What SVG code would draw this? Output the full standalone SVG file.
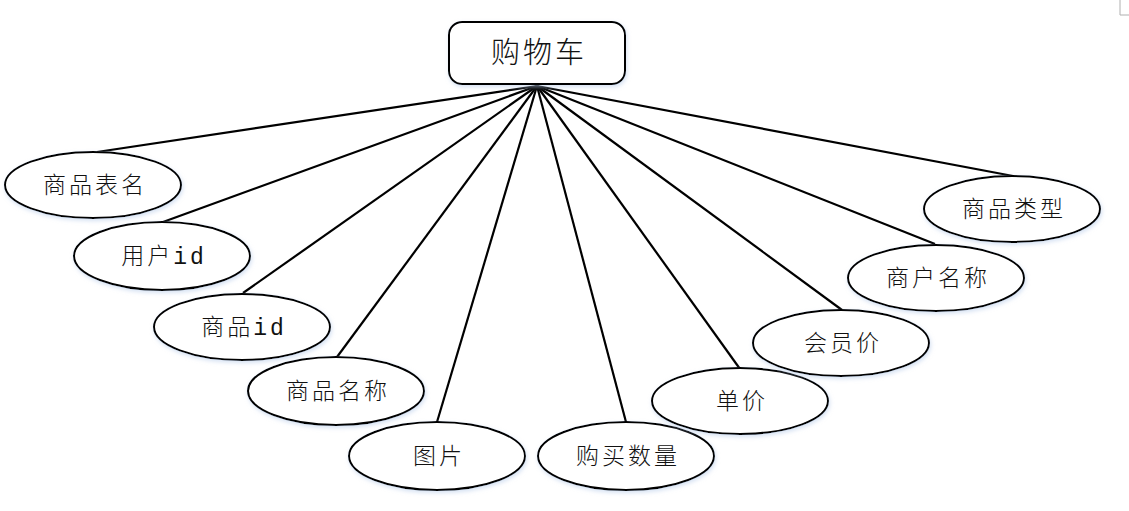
<svg xmlns="http://www.w3.org/2000/svg" width="1129" height="511" viewBox="0 0 1129 511">
<defs>
<filter id="glow" x="-10%" y="-20%" width="120%" height="140%">
<feDropShadow dx="1" dy="2" stdDeviation="2" flood-color="#b9cdea" flood-opacity="0.6"/>
</filter>
<style>
.n{fill:#fff;stroke:#000;stroke-width:2;filter:url(#glow)}
.t{font-family:"Liberation Mono","Noto Sans CJK SC",monospace;font-size:23px;font-weight:300;letter-spacing:3px;fill:#111;text-anchor:middle}
.title{font-family:"Noto Sans CJK SC",sans-serif;font-size:29px;font-weight:300;letter-spacing:3px;fill:#111;text-anchor:middle}
.c line{stroke:#000;stroke-width:2.2}
</style>
</defs>
<rect width="1129" height="511" fill="#fff"/>
<polyline points="1120,0 1120,15 1129,15" fill="none" stroke="#b0b0b0" stroke-width="1"/>
<g class="c" id="connectors">
<line x1="537" y1="86" x2="97" y2="152"/>
<line x1="537" y1="86" x2="163" y2="222"/>
<line x1="537" y1="86" x2="243" y2="293"/>
<line x1="537" y1="86" x2="337" y2="357"/>
<line x1="537" y1="86" x2="437" y2="422"/>
<line x1="537" y1="86" x2="626" y2="422"/>
<line x1="537" y1="86" x2="740" y2="369"/>
<line x1="537" y1="86" x2="842" y2="310"/>
<line x1="537" y1="86" x2="935" y2="244"/>
<line x1="537" y1="86" x2="1013" y2="176"/>
</g>
<g id="cart">
<rect class="n" x="449" y="22" width="176" height="62" rx="13"/>
<text class="title" x="539" y="63">购物车</text>
</g>
<g id="n1"><ellipse class="n" cx="93" cy="185" rx="88" ry="33"/><text class="t" x="95" y="193">商品表名</text></g>
<g id="n2"><ellipse class="n" cx="162" cy="256" rx="88" ry="34"/><text class="t" x="164" y="264">用户id</text></g>
<g id="n3"><ellipse class="n" cx="242" cy="327" rx="88" ry="33"/><text class="t" x="244" y="335">商品id</text></g>
<g id="n4"><ellipse class="n" cx="336" cy="391" rx="88" ry="34"/><text class="t" x="338" y="399">商品名称</text></g>
<g id="n5"><ellipse class="n" cx="437" cy="456" rx="88" ry="34"/><text class="t" x="439" y="464">图片</text></g>
<g id="n6"><ellipse class="n" cx="626" cy="456" rx="88" ry="34"/><text class="t" x="628" y="464">购买数量</text></g>
<g id="n7"><ellipse class="n" cx="740" cy="401" rx="88" ry="33"/><text class="t" x="742" y="409">单价</text></g>
<g id="n8"><ellipse class="n" cx="841" cy="343" rx="88" ry="33"/><text class="t" x="843" y="351">会员价</text></g>
<g id="n9"><ellipse class="n" cx="936" cy="278" rx="88" ry="33"/><text class="t" x="938" y="286">商户名称</text></g>
<g id="n10"><ellipse class="n" cx="1012" cy="209" rx="88" ry="33"/><text class="t" x="1014" y="217">商品类型</text></g>
</svg>
